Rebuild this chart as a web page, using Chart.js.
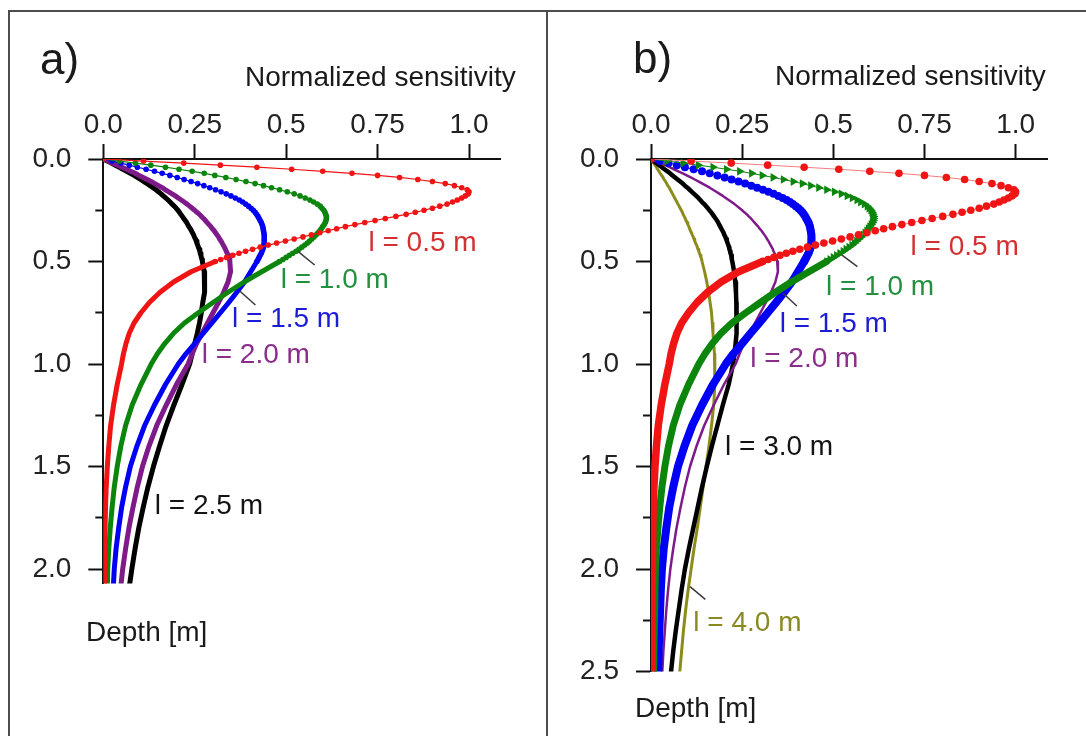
<!DOCTYPE html>
<html>
<head>
<meta charset="utf-8">
<script src="https://cdn.jsdelivr.net/npm/chart.js@4.4.1/dist/chart.umd.min.js"></script>
<style>
  html, body { margin: 0; padding: 0; background: #fff; }
  #wrap { position: relative; width: 1086px; height: 736px; overflow: hidden; background: #fff; }
  #wrap canvas { position: absolute; top: 0; }
  #ca { left: 0; }
  #cb { left: 547px; }
  .rule { position: absolute; background: #4d4d4d; z-index: 2; }
</style>
</head>
<body>
<div id="wrap">
  <canvas id="ca" width="547" height="736"></canvas>
  <canvas id="cb" width="539" height="736"></canvas>
  <div class="rule" style="left:8px;top:10px;width:1078px;height:2px"></div>
  <div class="rule" style="left:8px;top:10px;width:2px;height:726px"></div>
  <div class="rule" style="left:546px;top:10px;width:2px;height:726px"></div>
</div>
<script>
// Depth samples [m]: 1 cm steps near the surface, coarser below
const depth = [
  0.00, 0.01, 0.02, 0.03, 0.04, 0.05, 0.06, 0.07, 0.08, 0.09,
  0.10, 0.11, 0.12, 0.13, 0.14, 0.15, 0.16, 0.17, 0.18, 0.19,
  0.20, 0.21, 0.22, 0.23, 0.24, 0.25, 0.26, 0.27, 0.28, 0.29,
  0.30, 0.31, 0.32, 0.33, 0.34, 0.35, 0.36, 0.37, 0.38, 0.39,
  0.40, 0.41, 0.42, 0.43, 0.44, 0.45, 0.46, 0.47, 0.48, 0.49, 0.50,
  0.55, 0.60, 0.65, 0.70, 0.75, 0.80, 0.85, 0.90, 0.95, 1.00,
  1.1, 1.2, 1.3, 1.4, 1.5, 1.6, 1.7, 1.8, 1.9, 2.0, 2.1, 2.2, 2.3, 2.4, 2.5
];

// Normalized sensitivity for each spacing l
const sensL05 = [
  0, .11, .22, .32, .42, .515, .60, .68, .75, .81,
  .86, .90, .935, .96, .98, .995, 1.0, .998, .99, .98,
  .968, .955, .94, .92, .90, .877, .853, .828, .80, .771,
  .743, .715, .688, .662, .638, .615, .592, .569, .546, .522,
  .498, .474, .451, .429, .408, .389, .371, .354, .337, .321, .306,
  .24, .192, .155, .126, .103, .084, .071, .062, .055, .05,
  .038, .028, .02, .015, .011, .008, .006, .005, .004, .003, .003, .002, .002, .002, .002
];
const sensL10 = [
  0, .044, .088, .13, .17, .207, .243, .276, .305, .335,
  .363, .39, .415, .438, .46, .482, .503, .522, .538, .552,
  .565, .575, .585, .593, .598, .603, .606, .608, .61, .61,
  .609, .607, .604, .60, .596, .592, .587, .582, .576, .57,
  .564, .558, .551, .543, .535, .527, .518, .509, .50, .491, .482,
  .433, .385, .341, .30, .26, .222, .192, .168, .148, .131,
  .103, .079, .061, .048, .038, .03, .024, .019, .015, .012, .011, .01, .009, .008, .007
];
const sensL15 = [
  0, .024, .048, .071, .093, .117, .14, .161, .182, .202,
  .221, .24, .258, .275, .291, .307, .322, .336, .349, .361,
  .372, .381, .389, .397, .404, .41, .415, .419, .423, .426,
  .429, .432, .434, .436, .437, .438, .439, .44, .44, .44,
  .44, .44, .439, .438, .436, .434, .432, .429, .426, .423, .42,
  .403, .386, .365, .343, .32, .297, .273, .25, .226, .205,
  .17, .14, .113, .092, .074, .061, .05, .042, .035, .03, .027, .025, .023, .021, .02
];
const sensL20 = [
  0, .013, .026, .039, .051, .063, .075, .087, .098, .109,
  .12, .131, .141, .151, .161, .17, .179, .188, .197, .205,
  .213, .221, .229, .236, .243, .25, .256, .263, .268, .274,
  .279, .284, .289, .294, .298, .303, .307, .311, .315, .318,
  .322, .325, .328, .331, .334, .336, .339, .341, .343, .345, .346,
  .348, .341, .329, .315, .30, .285, .27, .255, .243, .232,
  .20, .172, .146, .125, .107, .093, .081, .07, .061, .053, .047, .042, .038, .034, .031
];
const sensL25 = [
  0, .011, .022, .033, .044, .054, .064, .074, .084, .093,
  .102, .111, .12, .128, .136, .144, .151, .158, .164, .171,
  .177, .183, .188, .194, .199, .204, .208, .212, .216, .22,
  .224, .228, .231, .234, .238, .241, .244, .247, .249, .252,
  .254, .256, .258, .26, .262, .264, .265, .267, .268, .27, .271,
  .276, .278, .276, .272, .268, .263, .257, .25, .243, .236,
  .215, .193, .172, .154, .137, .122, .109, .097, .087, .078, .07
];
const sensL30 = [
  0, .0075, .015, .0225, .03, .037, .045, .052, .059, .066,
  .073, .08, .087, .093, .1, .106, .112, .118, .124, .13,
  .135, .14, .146, .151, .156, .16, .165, .169, .173, .177,
  .181, .184, .187, .19, .193, .196, .199, .201, .204, .206,
  .208, .21, .212, .214, .215, .217, .218, .22, .221, .222, .223,
  .228, .231, .233, .234, .235, .235, .234, .232, .229, .225,
  .213, .197, .182, .167, .153, .14, .128, .116, .104, .093, .084, .076, .068, .061, .055
];
const sensL40 = [
  0, .004, .007, .011, .015, .018, .022, .025, .029, .033,
  .036, .04, .043, .046, .05, .053, .056, .059, .062, .065,
  .068, .071, .074, .077, .08, .083, .086, .088, .091, .094,
  .096, .099, .101, .104, .106, .108, .111, .113, .116, .118,
  .12, .122, .125, .127, .129, .131, .133, .135, .137, .139, .14,
  .147, .153, .158, .162, .166, .168, .17, .172, .174, .175,
  .175, .172, .166, .159, .151, .143, .135, .127, .118, .11, .102, .095, .089, .084, .079
];

// Axis ticks
const sensTicks = [0, 0.25, 0.5, 0.75, 1.0];
const sensTickLabels = ['0.0', '0.25', '0.5', '0.75', '1.0'];
const depthTicksA = [0, 0.5, 1.0, 1.5, 2.0];
const depthTickLabelsA = ['0.0', '0.5', '1.0', '1.5', '2.0'];
const depthMinorA = [0.25, 0.75, 1.25, 1.75];
const depthTicksB = [0, 0.5, 1.0, 1.5, 2.0, 2.5];
const depthTickLabelsB = ['0.0', '0.5', '1.0', '1.5', '2.0', '2.5'];
const depthMinorB = [0.25, 0.75, 1.25, 1.75, 2.25];

// Series names
const namesA = ['l = 0.5 m', 'l = 1.0 m', 'l = 1.5 m', 'l = 2.0 m', 'l = 2.5 m'];
const namesB = ['l = 0.5 m', 'l = 1.0 m', 'l = 1.5 m', 'l = 2.0 m', 'l = 3.0 m', 'l = 4.0 m'];

const FONT = "'Liberation Sans', Arial, Helvetica, sans-serif";
const FS = 28;
Chart.defaults.font.family = FONT;

const COL = {
  red: '#f01414', green: '#0b850b', blue: '#0000f5', purple: '#7e1a8a', black: '#000000', olive: '#8c8c1c'
};
const TXT = {
  red: '#d3302f', green: '#23903f', blue: '#1c1cd6', purple: '#8b2d8b', black: '#141414', olive: '#8a8a22'
};

function toPoints(values) {
  return values.map((v, i) => ({ x: v, y: depth[i] }));
}
function segDepth(ctx) {
  const ds = ctx.chart.data.datasets[ctx.datasetIndex];
  const p = ds.data[ctx.p0DataIndex];
  return p ? p.y : 0;
}

// Sampled curve: markers + hairline near the surface, solid band below 0.5 m
function markerSeries(label, values, color, o) {
  return {
    label,
    data: toPoints(values),
    showLine: true,
    tension: 0,
    borderColor: color,
    backgroundColor: color,
    borderWidth: o.thick,
    borderJoinStyle: 'round',
    borderCapStyle: 'round',
    pointStyle: o.style || 'circle',
    pointRotation: o.rotation || 0,
    pointBackgroundColor: color,
    pointBorderColor: color,
    pointBorderWidth: 0,
    pointRadius: ctx => (ctx.raw && ctx.raw.y <= 0.5) ? o.r : 0,
    segment: {
      borderWidth: ctx => segDepth(ctx) >= 0.5 ? o.thick : o.thin,
      borderColor: ctx => segDepth(ctx) >= 0.5 ? color : (o.thinColor || color)
    }
  };
}
function lineSeries(label, values, color, width) {
  return {
    label,
    data: toPoints(values),
    showLine: true,
    tension: 0,
    borderColor: color,
    backgroundColor: color,
    borderWidth: width,
    borderJoinStyle: 'round',
    borderCapStyle: 'round',
    pointRadius: 0
  };
}

// Panel decorations: letter, axis titles, curve labels with leader lines
function decorations(spec) {
  return {
    id: 'decor' + spec.letter,
    afterDatasetsDraw(chart) {
      const c = chart.ctx;
      const sx = chart.scales.x, sy = chart.scales.y;
      c.save();
      c.textAlign = 'left';
      c.textBaseline = 'alphabetic';
      c.fillStyle = '#1a1a1a';
      c.font = '44px ' + FONT;
      c.fillText(spec.letter, spec.letterAt[0], spec.letterAt[1]);
      c.font = FS + 'px ' + FONT;
      c.fillText('Normalized sensitivity', spec.xTitleAt[0], spec.xTitleAt[1]);
      c.fillText('Depth [m]', spec.yTitleAt[0], spec.yTitleAt[1]);
      spec.labels.forEach(l => {
        if (l.leader) {
          c.strokeStyle = '#3a3a3a';
          c.lineWidth = 1.5;
          c.beginPath();
          c.moveTo(sx.getPixelForValue(l.leader[0]), sy.getPixelForValue(l.leader[1]));
          c.lineTo(sx.getPixelForValue(l.leader[2]), sy.getPixelForValue(l.leader[3]));
          c.stroke();
        }
        c.fillStyle = l.color;
        c.fillText(l.text, sx.getPixelForValue(l.x), sy.getPixelForValue(l.y) + 0.358 * FS);
      });
      c.restore();
    }
  };
}

function buildChart(id, cfg) {
  return new Chart(document.getElementById(id), {
    type: 'scatter',
    data: { datasets: cfg.datasets },
    options: {
      responsive: false,
      animation: false,
      events: [],
      layout: { padding: cfg.padding },
      plugins: { legend: { display: false }, tooltip: { enabled: false } },
      scales: {
        x: {
          type: 'linear', position: 'top', min: 0, max: cfg.xMax,
          afterFit: s => { s.height = 60; },
          afterBuildTicks: s => { s.ticks = sensTicks.map(v => ({ value: v })); },
          ticks: {
            callback: (v, i) => sensTickLabels[i],
            font: { size: FS }, color: '#222', padding: 2,
            maxRotation: 0, autoSkip: false
          },
          grid: { drawOnChartArea: false, drawTicks: true, tickLength: 15, tickWidth: 2, tickColor: '#111' },
          border: { display: true, color: '#111', width: 2 }
        },
        y: {
          type: 'linear', position: 'left', reverse: true, min: 0, max: cfg.yMax, weight: 1,
          afterFit: s => { s.width = 90; },
          afterBuildTicks: s => { s.ticks = cfg.yTicks.map(v => ({ value: v })); },
          ticks: {
            callback: (v, i) => cfg.yLabels[i],
            font: { size: FS }, color: '#222', padding: 17, autoSkip: false
          },
          grid: { drawOnChartArea: false, drawTicks: true, tickLength: 15, tickWidth: 2, tickColor: '#111' },
          border: { display: true, color: '#111', width: 2 }
        },
        yMinor: {
          type: 'linear', position: 'left', reverse: true, min: 0, max: cfg.yMax, weight: 0,
          afterFit: s => { s.width = 0; },
          afterBuildTicks: s => { s.ticks = cfg.yMinor.map(v => ({ value: v })); },
          ticks: { display: false },
          grid: { drawOnChartArea: false, drawTicks: true, tickLength: 8, tickWidth: 2, tickColor: '#111' },
          border: { display: false }
        }
      }
    },
    plugins: [decorations(cfg.decor)]
  });
}

// Panel a
buildChart('ca', {
  xMax: 1.085, yMax: 2.07,
  yTicks: depthTicksA, yLabels: depthTickLabelsA, yMinor: depthMinorA,
  padding: { left: 13.3, top: 99, right: 46.9, bottom: 152.6 },
  datasets: [
    markerSeries(namesA[0], sensL05, COL.red, { r: 2.8, thin: 1.2, thick: 5 }),
    markerSeries(namesA[1], sensL10, COL.green, { r: 2.8, thin: 1.2, thick: 5 }),
    markerSeries(namesA[2], sensL15, COL.blue, { r: 2.8, thin: 1.2, thick: 5 }),
    lineSeries(namesA[3], sensL20, COL.purple, 5),
    lineSeries(namesA[4], sensL25, COL.black, 5)
  ],
  decor: {
    letter: 'a)', letterAt: [40, 74],
    xTitleAt: [245, 86], yTitleAt: [86, 641],
    labels: [
      { text: namesA[0], color: TXT.red, x: 0.725, y: 0.402 },
      { text: namesA[1], color: TXT.green, x: 0.485, y: 0.580, leader: [0.533, 0.452, 0.578, 0.517] },
      { text: namesA[2], color: TXT.blue, x: 0.352, y: 0.769, leader: [0.373, 0.644, 0.416, 0.712] },
      { text: namesA[3], color: TXT.purple, x: 0.269, y: 0.946 },
      { text: namesA[4], color: TXT.black, x: 0.141, y: 1.681 }
    ]
  }
});

// Panel b
buildChart('cb', {
  xMax: 1.086, yMax: 2.5,
  yTicks: depthTicksB, yLabels: depthTickLabelsB, yMinor: depthMinorB,
  padding: { left: 14, top: 99, right: 39, bottom: 64.5 },
  datasets: [
    markerSeries(namesB[0], sensL05, COL.red, { r: 3.8, thin: 1, thick: 7.5, thinColor: '#f27d7d' }),
    markerSeries(namesB[1], sensL10, COL.green, { r: 5, thin: 1, thick: 7, style: 'triangle', rotation: 90 }),
    markerSeries(namesB[2], sensL15, COL.blue, { r: 4, thin: 1, thick: 8 }),
    lineSeries(namesB[3], sensL20, COL.purple, 2.5),
    lineSeries(namesB[4], sensL30, COL.black, 4.5),
    lineSeries(namesB[5], sensL40, COL.olive, 3)
  ],
  decor: {
    letter: 'b)', letterAt: [86, 73],
    xTitleAt: [228, 85], yTitleAt: [88, 717],
    labels: [
      { text: namesB[0], color: TXT.red, x: 0.712, y: 0.420 },
      { text: namesB[1], color: TXT.green, x: 0.480, y: 0.615, leader: [0.523, 0.468, 0.566, 0.525] },
      { text: namesB[2], color: TXT.blue, x: 0.353, y: 0.795, leader: [0.362, 0.655, 0.400, 0.717] },
      { text: namesB[3], color: TXT.purple, x: 0.272, y: 0.966 },
      { text: namesB[4], color: TXT.black, x: 0.203, y: 1.393 },
      { text: namesB[5], color: TXT.olive, x: 0.116, y: 2.254, leader: [0.107, 2.086, 0.149, 2.148] }
    ]
  }
});
</script>
</body>
</html>
